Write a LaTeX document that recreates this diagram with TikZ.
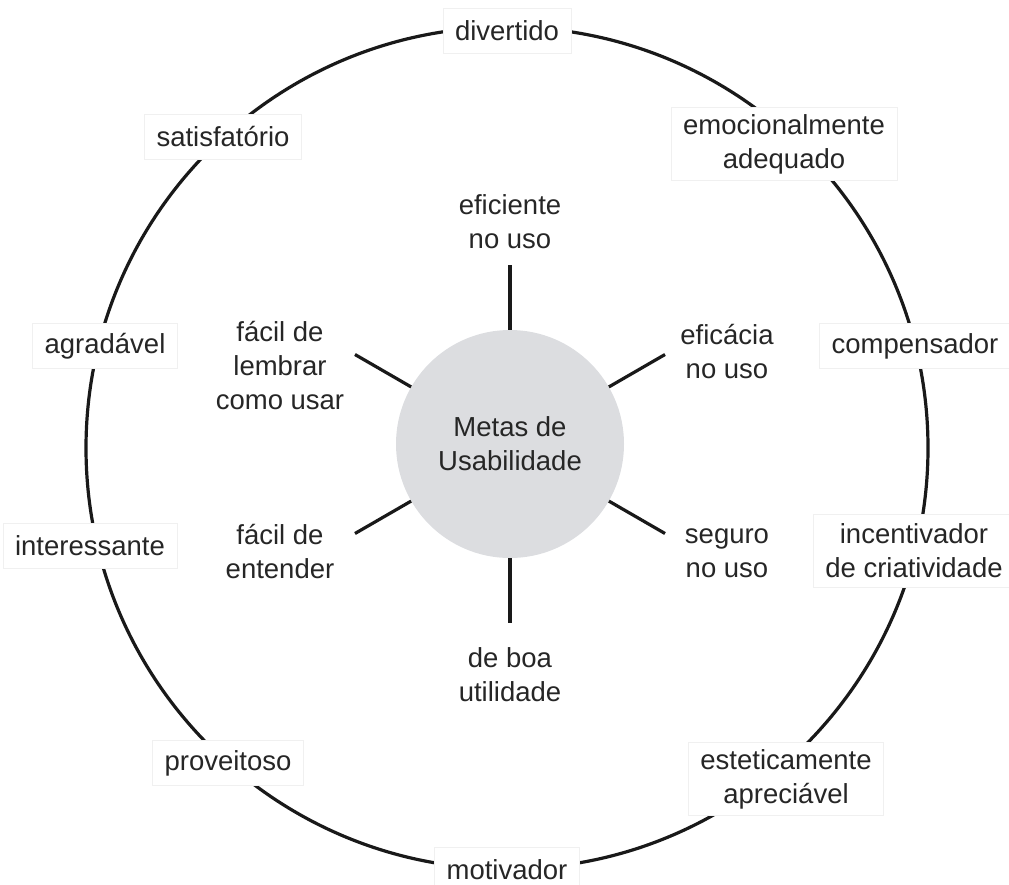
\documentclass[tikz,border=0pt]{standalone}
\usepackage{fontspec}
\setmainfont{Liberation Sans}
\definecolor{txt}{RGB}{38,38,38}
\definecolor{corefill}{RGB}{220,221,224}
\begin{document}
\begin{tikzpicture}[x=1pt,y=-1pt,
  lbl/.style={font=\fontsize{27.5}{34}\selectfont, text=txt, align=center, inner sep=0pt},
  outerlbl/.style={lbl, fill=white, draw=black!6, line width=0.6pt, inner xsep=12pt, inner ysep=0pt},
  onebox/.style={outerlbl, minimum height=45pt},
  twobox/.style={outerlbl, minimum height=73pt},
  ring/.style={line width=3.2pt, draw=black!90},
  spoke/.style={line width=3.2pt, draw=black!90},
]
\useasboundingbox (0,0) rectangle (1009,884);
\draw[ring] (507,448) circle (421pt);

% outer labels
\node[onebox] (divertido) at (507,31) {divertido};
\node[onebox] (satisf) at (223,137) {satisfatório};
\node[twobox] (emoc) at (784,144) {emocionalmente\\adequado};
\node[onebox] (agrad) at (105,346) {agradável};
\node[onebox] (comp) at (915,346) {compensador};
\node[onebox] (inter) at (90,546) {interessante};
\node[twobox] (incent) at (914,551) {incentivador\\de criatividade};
\node[onebox] (prov) at (228,763) {proveitoso};
\node[twobox] (estet) at (786,779) {esteticamente\\apreciável};
\node[onebox] (motiv) at (507,870) {motivador};

% core
\node[lbl, circle, fill=corefill, minimum size=228pt] (core) at (510,444) {Metas de\\Usabilidade};

\foreach \a in {90,30,-30,-90,210,150}{
  \coordinate (e\a) at ([shift={(\a:179pt)}]core.center);
  \draw[spoke] (core.\a) -- (e\a);
}

% inner labels
\node[lbl] (effic) at (510,222) {eficiente\\no uso};
\node[lbl] (eficacia) at (727,352) {eficácia\\no uso};
\node[lbl] (seguro) at (727,553) {seguro\\no uso};
\node[lbl] (boa) at (510,675) {de boa\\utilidade};
\node[lbl] (entender) at (280,551) {fácil de\\entender};
\node[lbl] (lembrar) at (280,366) {fácil de\\lembrar\\como usar};
\end{tikzpicture}
\end{document}
